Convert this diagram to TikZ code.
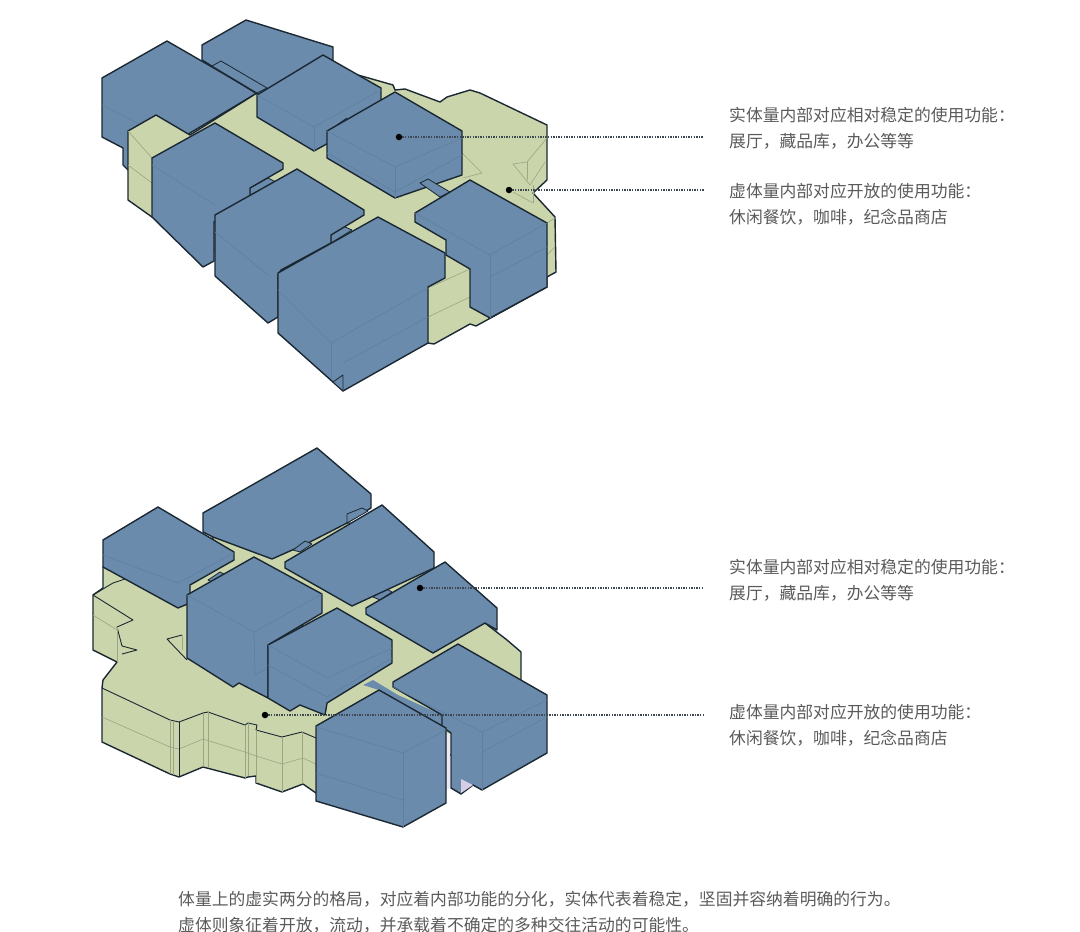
\documentclass[tikz,border=0pt]{standalone}
\usepackage{fontspec}
\newfontfamily\cjk{Noto Sans CJK SC}
\usetikzlibrary{positioning}
\definecolor{massblue}{HTML}{6A8BAB}
\definecolor{voidgreen}{HTML}{CBD5AB}
\definecolor{edgedark}{HTML}{1B2833}
\definecolor{foldblue}{HTML}{5E80A0}
\definecolor{foldgreen}{HTML}{9CA584}
\definecolor{labelgrey}{HTML}{5A5A5A}
\definecolor{slivergrey}{HTML}{E9E8F2}
\definecolor{sliverlilac}{HTML}{D6CEE6}
\tikzset{
  solidmass/.style={fill=massblue, draw=edgedark, line width=1.4pt, line join=round},
  voidmass/.style={fill=voidgreen, draw=edgedark, line width=1.4pt, line join=round},
  foldb/.style={draw=foldblue, line width=.6pt},
  foldg/.style={draw=foldgreen, line width=.6pt},
  tab/.style={fill=massblue, draw=edgedark, line width=.8pt, line join=round},
  thinedge/.style={draw=edgedark, line width=.9pt, line join=round},
  dot/.style={circle, fill=black, inner sep=0pt, minimum size=6.5pt},
  leader/.style={draw=edgedark!85, line width=1.3pt, dash pattern=on 1.3pt off 1.3pt},
  note/.style={font=\cjk\fontsize{16.8}{25.6}\selectfont, text=labelgrey, align=left, anchor=north west, inner sep=0pt}
}
\begin{document}
\begin{tikzpicture}[x=1pt, y=-1pt]
  \useasboundingbox (0,0) rectangle (1080,932);

  % upper model
  \draw[solidmass] (102,78) -- (167,41) -- (257,93) -- (190,133) -- (128,170) -- (123,165) -- (123,148) -- (102,137) -- cycle;
  \draw[foldb] (102,105) -- (190,150);
  \draw[voidmass] (128,131) -- (156,115) -- (190,135) -- (257,93) -- (340,70) -- (365,77) -- (393,85) -- (395,90) -- (405,89) -- (440,102) -- (447,97) -- (470,90) -- (480,93) -- (547,125) -- (547,180) -- (533,193) -- (555,217) -- (556,272) -- (547,277) -- (547,287) -- (476,326) -- (470,324) -- (434,344) -- (428,343) -- (343,300) -- (215,250) -- (152,217) -- (128,200) -- cycle;
  \draw[foldg] (128,131) -- (152,158);
  \draw[foldg] (128,165) -- (152,183);
  \draw[foldg] (462,153) -- (482,173) -- (463,178);
  \draw[foldg] (547,138) -- (527,162) -- (513,164) -- (530,185) -- (545,162);
  \draw[foldg] (527,162) -- (527,180);
  \draw[foldg] (533,185) -- (533,203);
  \draw[foldg] (513,192) -- (533,203);
  \draw[foldg] (547,223) -- (555,218);
  \draw[foldg] (547,255) -- (555,247);
  \draw[foldg] (428,288) -- (470,269);
  \draw[foldg] (428,317) -- (470,297);

  \draw[solidmass] (202,45) -- (246,20) -- (333,47) -- (333,70) -- (267,100) -- (202,60) -- cycle;
  \draw[tab] (212,66) -- (221,61) -- (267,88) -- (257,93) -- cycle;
  \draw[solidmass] (257,95) -- (323,55) -- (381,88) -- (381,114) -- (314,151) -- (257,117) -- cycle;
  \draw[foldb] (257,95) -- (314,127) -- (381,90);
  \draw[foldb] (314,127) -- (314,151);
  \draw[thinedge] (337,125) -- (347,118);
  \draw[solidmass] (327,131) -- (395,92) -- (462,131) -- (462,175) -- (395,198) -- (327,158) -- cycle;
  \draw[foldb] (327,131) -- (395,167) -- (462,138);
  \draw[foldb] (395,167) -- (395,198);
  \draw[foldb] (327,153) -- (395,192) -- (462,155);
  \draw[tab] (420,183) -- (428,179) -- (450,192) -- (440,197) -- cycle;

  \draw[tab] (250,188) -- (268,178) -- (278,183) -- (250,200) -- cycle;
  \draw[solidmass] (152,158) -- (215,123) -- (283,163) -- (283,169) -- (250,188) -- (250,200) -- (214,222) -- (214,261) -- (203,267) -- (152,217) -- cycle;
  \draw[foldb] (152,165) -- (215,205);
  \draw[tab] (282,263) -- (297,255) -- (303,259) -- (282,272) -- cycle;
  \draw[tab] (331,233) -- (343,226) -- (352,230) -- (331,243) -- cycle;
  \draw[solidmass] (215,215) -- (297,169) -- (364,210) -- (364,215) -- (331,235) -- (331,243) -- (281,270) -- (278,275) -- (278,317) -- (268,323) -- (215,276) -- cycle;
  \draw[foldb] (215,232) -- (268,275);

  \draw[solidmass] (415,213) -- (470,180) -- (547,223) -- (547,287) -- (490,318) -- (470,307) -- (470,269) -- (446,255) -- (446,240) -- (415,222) -- cycle;
  \draw[foldb] (415,213) -- (490,255) -- (547,223);
  \draw[foldb] (490,255) -- (490,318);
  \draw[foldb] (490,277) -- (547,247);
  \draw[solidmass] (278,273) -- (378,217) -- (445,253) -- (445,278) -- (428,287) -- (428,343) -- (343,391) -- (278,333) -- cycle;
  \draw[foldb] (278,290) -- (331,343) -- (428,288);
  \draw[foldb] (331,343) -- (331,380);
  \draw[foldb] (343,363) -- (428,317);
  \draw[tab] (333,382) -- (343,375) -- (343,391) -- cycle;

  % lower model
  \draw[voidmass] (103,567) -- (213,538) -- (223,533) -- (272,540) -- (340,520) -- (400,540) -- (430,560) -- (440,580) -- (485,623) -- (507,640) -- (521,652) -- (521,690) -- (445,760) -- (400,800) -- (316,793) -- (303,784) -- (282,792) -- (256,783) -- (256,776) -- (248,777) -- (245,778) -- (203,767) -- (179,777) -- (170,774) -- (102,742) -- (102,688) -- (103,680) -- (117,662) -- (93,650) -- (93,595) -- (103,588) -- cycle;
  \draw[thinedge] (102,688) -- (170,720) -- (179,722) -- (203,713) -- (208,712) -- (245,725) -- (248,723) -- (257,725) -- (256,730) -- (282,737) -- (302,732) -- (316,738);
  \draw[foldg] (102,717) -- (170,747) -- (179,749) -- (203,739) -- (245,752) -- (256,756) -- (282,764) -- (303,758) -- (316,764);
  \foreach \xa/\ya/\yb in {170/720/774, 173/721/775, 203/713/767, 208/712/767, 245/725/778, 248/723/776, 256/730/783, 282/737/792, 302/732/784}{
    \draw[foldg] (\xa,\ya) -- (\xa,\yb);
  }
  \draw[thinedge] (179,722) -- (179,777);
  \draw[thinedge] (93,595) -- (113,583) -- (125,579);
  \draw[thinedge] (93,595) -- (133,620) -- (117,627) -- (122,646) -- (137,650) -- (122,654);
  \draw[foldg] (117,627) -- (117,662);
  \draw[foldg] (93,615) -- (117,630);
  \draw[thinedge] (187,660) -- (167,639) -- (182,635);
  \draw[foldg] (182,635) -- (182,650);

  \draw[solidmass] (103,540) -- (158,507) -- (234,552) -- (234,560) -- (190,585) -- (190,603) -- (178,608) -- (125,579) -- (103,567) -- cycle;
  \draw[foldb] (178,583) -- (234,553);
  \draw[foldb] (103,555) -- (178,583);
  \draw[tab] (208,580) -- (220,572) -- (226,575) -- (214,583) -- cycle;
  \draw[solidmass] (203,513) -- (317,448) -- (371,494) -- (371,508) -- (347,523) -- (308,543) -- (272,559) -- (213,537) -- (203,532) -- cycle;
  \draw[tab] (347,523) -- (347,514) -- (362,508) -- (368,511) -- cycle;
  \draw[tab] (293,550) -- (305,541) -- (312,544) -- (300,552) -- cycle;
  \draw[tab] (373,597) -- (385,588) -- (392,592) -- (380,600) -- cycle;
  \draw[solidmass] (285,562) -- (382,505) -- (434,552) -- (434,568) -- (352,606) -- (285,568) -- cycle;
  \draw[solidmass] (366,608) -- (445,562) -- (497,608) -- (497,630) -- (485,623) -- (433,653) -- (366,614) -- cycle;

  \draw[tab] (288,633) -- (298,623) -- (303,625) -- (288,640) -- cycle;
  \draw[solidmass] (187,595) -- (254,557) -- (322,594) -- (322,613) -- (268,645) -- (268,698) -- (239,683) -- (233,687) -- (187,658) -- cycle;
  \draw[foldb] (187,595) -- (254,632) -- (322,594);
  \draw[foldb] (254,632) -- (255,675);
  \draw[foldb] (255,675) -- (268,668);
  \draw[solidmass] (268,645) -- (337,608) -- (392,640) -- (392,663) -- (327,703) -- (325,715) -- (300,705) -- (290,711) -- (268,698) -- cycle;
  \draw[foldb] (268,645) -- (327,678) -- (392,648);
  \draw[foldb] (268,665) -- (327,697) -- (392,658);

  \draw[fill=massblue, draw=none] (363,685) -- (373,680) -- (398,695) -- (442,715) -- (442,727) -- (379,690) -- cycle;
  \draw[solidmass] (393,682) -- (458,644) -- (547,695) -- (547,753) -- (482,790) -- (473,785) -- (461,794) -- (451,788) -- (451,733) -- (442,727) -- (442,715) -- (393,687) -- cycle;
  \draw[foldb] (393,687) -- (482,732) -- (547,700);
  \draw[foldb] (482,732) -- (482,790);
  \draw[foldb] (482,752) -- (547,717);
  \fill[slivergrey] (446,733) -- (450,734) -- (450,788) -- (446,790) -- cycle;
  \fill[sliverlilac] (461,779) -- (473,785) -- (461,793) -- cycle;
  \draw[solidmass] (316,726) -- (379,690) -- (446,728) -- (446,803) -- (403,827) -- (316,801) -- cycle;
  \draw[foldb] (316,727) -- (403,753) -- (446,730);
  \draw[foldb] (403,753) -- (403,827);
  \draw[foldb] (316,773) -- (403,800);

  % leaders
  \node[dot] (solidup) at (399,137) {};
  \node[dot] (voidup) at (509,190) {};
  \node[dot] (solidlow) at (420,588) {};
  \node[dot] (voidlow) at (265,715) {};
  \coordinate (solidupend) at (704,137);
  \coordinate (voidupend) at (704,190);
  \coordinate (solidlowend) at (704,588);
  \coordinate (voidlowend) at (704,715);
  \draw[leader] (solidup) -- (solidupend);
  \draw[leader] (voidup) -- (voidupend);
  \draw[leader] (solidlow) -- (solidlowend);
  \draw[leader] (voidlow) -- (voidlowend);

  % labels
  \node[note] (solidtextup) at (729,107) {实体量内部对应相对稳定的使用功能：\\展厅，藏品库，办公等等};
  \node[note] (voidtextup) at (729,183) {虚体量内部对应开放的使用功能：\\休闲餐饮，咖啡，纪念品商店};
  \node[note] (solidtextlow) at (729,559) {实体量内部对应相对稳定的使用功能：\\展厅，藏品库，办公等等};
  \node[note] (voidtextlow) at (729,704) {虚体量内部对应开放的使用功能：\\休闲餐饮，咖啡，纪念品商店};
  \node[note] (caption) at (178,891) {体量上的虚实两分的格局，对应着内部功能的分化，实体代表着稳定，坚固并容纳着明确的行为。\\虚体则象征着开放，流动，并承载着不确定的多种交往活动的可能性。};
\end{tikzpicture}
\end{document}
